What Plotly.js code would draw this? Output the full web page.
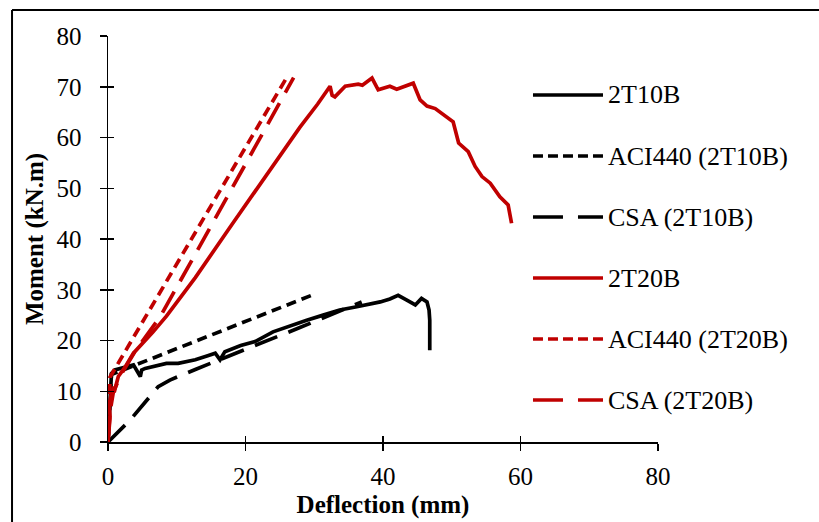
<!DOCTYPE html>
<html><head><meta charset="utf-8">
<script src="https://cdn.plot.ly/plotly-3.0.1.min.js"></script>
<style>html,body{margin:0;padding:0;background:#fff}#chart{width:819px;height:522px}</style>
</head><body><div id="chart"></div><script>
// ---- data ----
const seriesNames = ['2T10B', 'ACI440 (2T10B)', 'CSA (2T10B)', '2T20B', 'ACI440 (2T20B)', 'CSA (2T20B)'];

const exp2T10B_x = [0,0.2,0.4,0.5,1.0,1.7,2.7,3.7,4.7,4.9,5.4,7,8.5,10.2,12.7,14.5,15.6,16.3,17,19.3,21.4,24.0,26.5,28.9,31.3,33.7,36,38.6,39.6,41,42.2,43.4,44.7,45.6,46.4,46.7,46.8,46.8];
const exp2T10B_y = [0,5,10,13.5,14.2,14.5,14.9,15.2,12.9,14.2,14.5,15.0,15.5,15.5,16.2,17.0,17.5,16.2,17.8,19.0,19.8,21.7,22.9,24.0,25.0,26.0,26.6,27.3,27.6,28.2,28.9,28.0,27.0,28.3,27.6,26.0,24.0,18.1];

const aci2T10B_x = [0,0.5,29.6];
const aci2T10B_y = [0,13.3,28.9];

const csa2T10B_x = [0,3.2,7.3,9.0,12.7,19.4,28,36.9];
const csa2T10B_y = [0,4.3,10.9,12.2,14.3,17.9,22.6,27.6];

const exp2T20B_x = [0,0.1,0.3,0.2,0.4,0.8,0.9,1.5,2.5,3.7,5.0,6.5,8.5,12.7,18,25,27.9,30.5,32.3,32.6,33.0,34.5,36.4,37,38.4,39.3,41.0,42.0,44.4,45.4,46.4,47.6,48.8,50.2,51.0,52.4,53.4,54.4,55.6,57.0,58.2,58.7];
const exp2T20B_y = [0,3,5,7,9,10.9,9.8,12.9,14.8,17.5,19.4,21.6,24.8,32.4,42.8,56.5,62.0,66.6,70.1,68.3,68.0,70.1,70.5,70.3,71.7,69.4,70.1,69.5,70.7,67.4,66.2,65.7,64.4,63.1,58.9,57.2,54.3,52.3,51.0,48.3,46.7,43.1];

const aci2T20B_x = [0,0.3,25.9];
const aci2T20B_y = [0,12.8,71.6];

const csa2T20B_x = [0,0.3,0.8,2,4,7.6,15,27];
const csa2T20B_y = [0,6,10,13.5,18,24.7,42.6,71.8];

const xTicks = [0,20,40,60,80];
const yTicks = [0,10,20,30,40,50,60,70,80];

// ---- styles ----
const BLACK = '#000000', RED = '#C00000';
const FONT = 'Liberation Serif, Times New Roman, serif';
const LW = 3.7;
const styles = [
  {color: BLACK, dash: 'solid',      legDash: 'solid'},
  {color: BLACK, dash: '10px,6px',   legDash: '10px,5px'},
  {color: BLACK, dash: '24px,12px',  legDash: '30px,15px'},
  {color: RED,   dash: 'solid',      legDash: 'solid'},
  {color: RED,   dash: '10px,6px',   legDash: '10px,5px'},
  {color: RED,   dash: '24px,12px',  legDash: '30px,15px'}
];
const seriesX = [exp2T10B_x, aci2T10B_x, csa2T10B_x, exp2T20B_x, aci2T20B_x, csa2T20B_x];
const seriesY = [exp2T10B_y, aci2T10B_y, csa2T10B_y, exp2T20B_y, aci2T20B_y, csa2T20B_y];

const traces = seriesNames.map((n, i) => ({
  type: 'scatter', mode: 'lines', name: n,
  x: seriesX[i], y: seriesY[i],
  line: {color: styles[i].color, width: LW, dash: styles[i].dash},
  showlegend: false, hoverinfo: 'skip'
}));
// overlay axes to make ticks cross the axis line
traces.push({type: 'scatter', mode: 'lines', x: [], y: [], xaxis: 'x2', yaxis: 'y2', showlegend: false, hoverinfo: 'skip'});

// ---- hand-drawn legend (long line samples as in the reference) ----
const shapes = [];
const annotations = [];
const legTop = 0.8547, legStep = 0.1503;
seriesNames.forEach((n, i) => {
  const yy = legTop - i * legStep;
  shapes.push({type: 'line', xref: 'paper', yref: 'paper', x0: 0.7727, x1: 0.9, y0: yy, y1: yy,
    line: {color: styles[i].color, width: 3.5, dash: styles[i].legDash}});
  annotations.push({xref: 'paper', yref: 'paper', x: 0.906, y: yy, xanchor: 'left', yanchor: 'middle',
    text: n, showarrow: false, font: {family: FONT, size: 26, color: '#000'}});
});
// chart-area border (left and top edges visible)
shapes.push({type: 'line', xref: 'paper', yref: 'paper', x0: -0.1745, x1: -0.1745, y0: -0.25, y1: 1.064, line: {color: '#000', width: 2}});
shapes.push({type: 'line', xref: 'paper', yref: 'paper', x0: -0.1745, x1: 1.35, y0: 1.064, y1: 1.064, line: {color: '#000', width: 2}});

const axisCommon = {
  showgrid: false, zeroline: false, showline: true, linecolor: '#000', linewidth: 1.5,
  ticks: 'outside', ticklen: 7, tickwidth: 1.5, tickcolor: '#000',
  tickfont: {family: FONT, size: 25, color: '#000'}
};

const layout = {
  width: 819, height: 522,
  margin: {l: 108, r: 161, t: 36, b: 80},
  paper_bgcolor: '#fff', plot_bgcolor: '#fff',
  font: {family: FONT, color: '#000'},
  xaxis: Object.assign({}, axisCommon, {
    range: [0, 80], tickvals: xTicks, ticktext: xTicks.map(String),
    ticklabelstandoff: 4,
    title: {text: '<b>Deflection (mm)</b>', font: {family: FONT, size: 25, color: '#000'}, standoff: 7}
  }),
  yaxis: Object.assign({}, axisCommon, {
    range: [0, 80], tickvals: yTicks, ticktext: yTicks.map(String),
    ticklabelstandoff: 13,
    title: {text: '<b>Moment (kN.m)</b>', font: {family: FONT, size: 25, color: '#000'}, standoff: 6}
  }),
  xaxis2: {overlaying: 'x', range: [0, 80], tickvals: xTicks, showticklabels: false, showgrid: false, zeroline: false,
    showline: false, ticks: 'inside', ticklen: 6, tickwidth: 1.5, tickcolor: '#000'},
  yaxis2: {overlaying: 'y', range: [0, 80], tickvals: yTicks, showticklabels: false, showgrid: false, zeroline: false,
    showline: false, ticks: 'inside', ticklen: 6, tickwidth: 1.5, tickcolor: '#000'},
  shapes: shapes,
  annotations: annotations,
  showlegend: false
};

Plotly.newPlot('chart', traces, layout, {staticPlot: true, displayModeBar: false});
</script></body></html>
